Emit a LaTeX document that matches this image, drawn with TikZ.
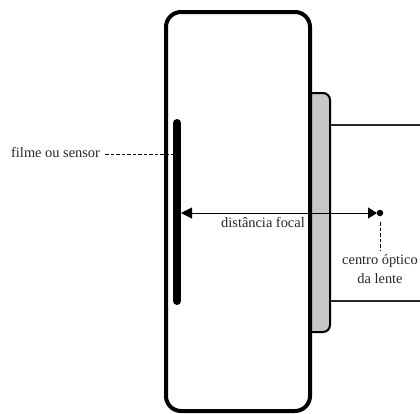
\documentclass[tikz,border=0pt]{standalone}
\usepackage{fontspec}
\setmainfont{Liberation Serif}
\usetikzlibrary{arrows.meta}
\tikzset{
  px/.style={x=1pt,y=-1pt},
  lbl/.style={inner sep=0pt,font=\fontsize{14.4}{16}\selectfont,text=black!85},
  thick body/.style={draw=black,line width=4pt,rounded corners=15pt},
  lens/.style={draw=black,line width=2pt,fill=black!22,rounded corners=7pt},
  barrel/.style={draw=black!85,line width=2pt},
  sensorbar/.style={draw=black,line width=8pt,line cap=round},
  leader/.style={draw=black,line width=0.7pt,dash pattern=on 3.5pt off 2pt},
  dim/.style={draw=black,line width=1pt,{Triangle[length=11pt,width=11pt]}-{Triangle[length=9pt,width=11pt]}}
}
\begin{document}
\begin{tikzpicture}[px]
\useasboundingbox (0,0) rectangle (420,413);
\path[lens] (300,93) -- (330,93) -- (330,332) -- (300,332) -- cycle;
\draw[thick body,fill=white] (166,12) rectangle (310,411);
\coordinate (barrelA) at (331,124.5);
\coordinate (barrelAe) at (420,124.5);
\coordinate (barrelB) at (331,301);
\coordinate (barrelBe) at (420,301);
\draw[barrel] (barrelA) -- (barrelAe);
\draw[barrel] (barrelB) -- (barrelBe);
\coordinate (senT) at (177,123);
\coordinate (senB) at (177,301);
\draw[sensorbar] (senT) -- (senB);
\coordinate (senM) at (181,213);
\node[circle,fill=black,inner sep=0pt,minimum size=6.5pt] (oc) at (380,213) {};
\coordinate (arrEnd) at (377,213);
\draw[dim] (senM) -- (arrEnd);
\node[lbl,anchor=base west] (film) at (11,157) {filme ou sensor};
\coordinate (senL) at (173,154);
\draw[leader] (105,154) -- (senL);
\node[lbl,anchor=base west] (df) at (221,227) {distância focal};
\node[lbl,anchor=base] (co) at (380,264) {centro óptico};
\node[lbl,anchor=base] (dl) at (380,283) {da lente};
\draw[leader] (oc.south) ++(0,6) -- (380,250);
\end{tikzpicture}
\end{document}
